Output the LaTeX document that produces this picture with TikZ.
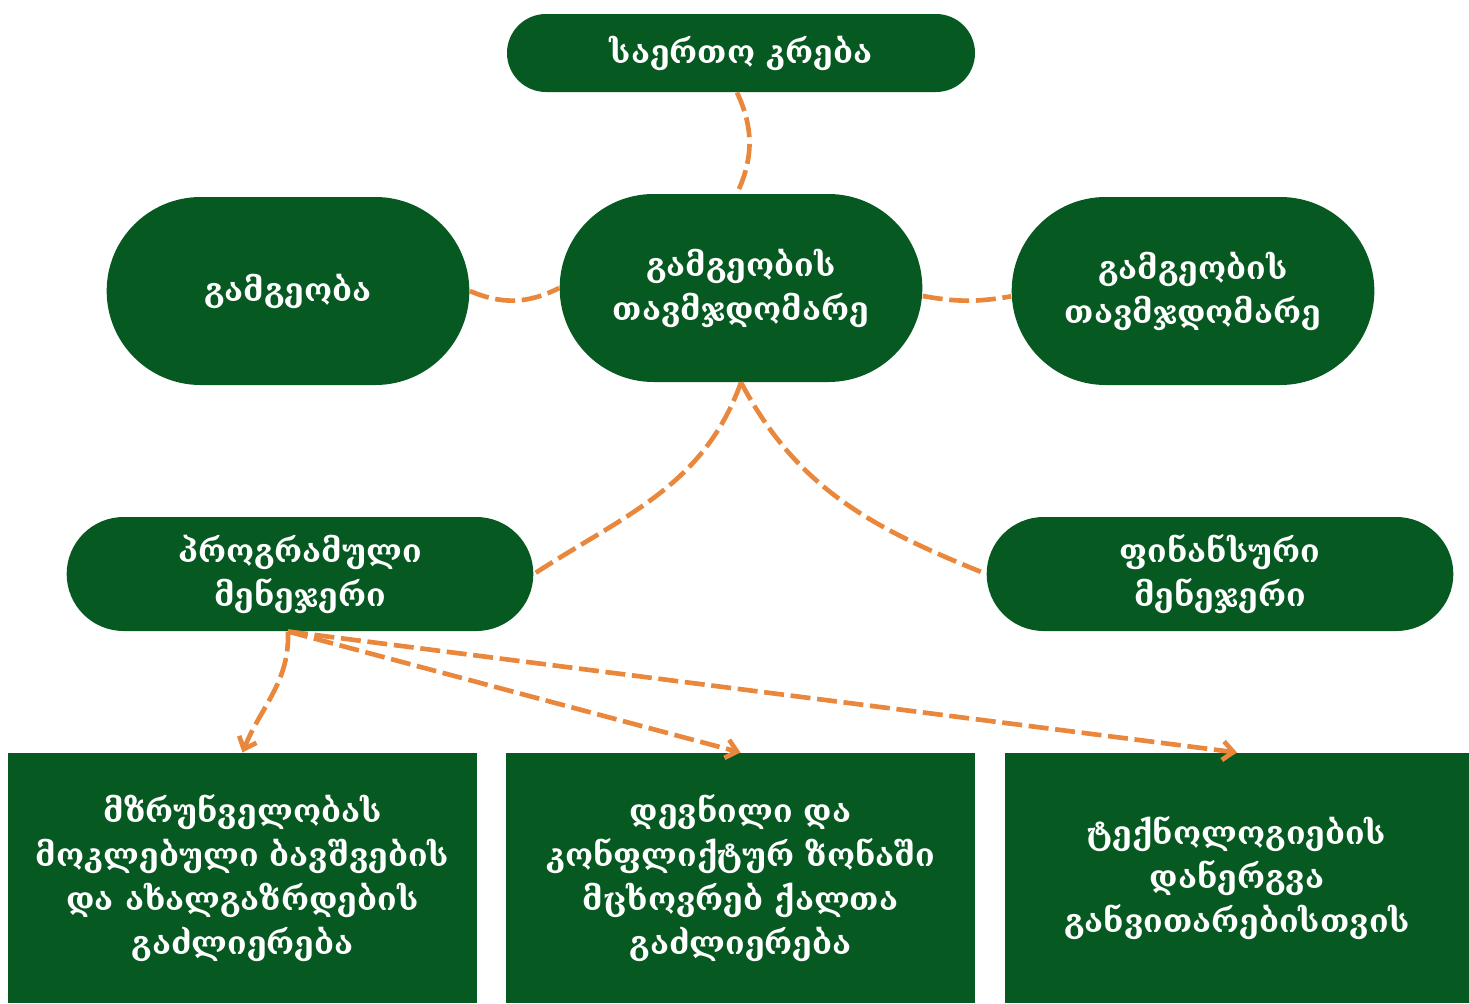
\documentclass[tikz,border=0pt]{standalone}
\usepackage{fontspec}
\setmainfont{DejaVu Serif}
\usetikzlibrary{shapes.misc,arrows.meta}

\definecolor{boardgreen}{RGB}{6,89,33}
\definecolor{linkorange}{RGB}{233,136,61}

\tikzset{every picture/.style={line width=0.75pt}}
\tikzset{
	pill/.style={rounded rectangle, fill=boardgreen, text=white, align=center, inner sep=0pt,
		font=\bfseries\fontsize{24}{33}\selectfont},
	panel/.style={rectangle, fill=boardgreen, text=white, align=center, inner sep=0pt,
		minimum height=187.5pt, font=\bfseries\fontsize{24}{33}\selectfont},
	link/.style={draw=linkorange, line width=3.5pt, dash pattern=on 15pt off 5pt},
	linkarrow/.style={link, -{Straight Barb[length=8pt,width=14pt]}}
}

\begin{document}
\begin{tikzpicture}[x=0.75pt,y=0.75pt]
	\useasboundingbox (0,0) rectangle (1469,-1003);

	% Text Node
	\node [pill, minimum width=351pt, minimum height=58.5pt] (meeting) at (741,-53) {საერთო კრება};
	% Text Node
	\node [pill, minimum width=272pt, minimum height=141pt] (board) at (288,-291) {გამგეობა};
	% Text Node
	\node [pill, minimum width=272pt, minimum height=141pt] (chair) at (741,-288) {გამგეობის\\თავმჯდომარე};
	% Text Node
	\node [pill, minimum width=272pt, minimum height=141pt] (vicechair) at (1193,-291) {გამგეობის\\თავმჯდომარე};
	% Text Node
	\node [pill, minimum width=350pt, minimum height=85.5pt] (progman) at (300,-574) {პროგრამული\\მენეჯერი};
	% Text Node
	\node [pill, minimum width=350pt, minimum height=85.5pt] (finman) at (1220,-574) {ფინანსური\\მენეჯერი};
	% Text Node
	\node [panel, minimum width=352pt] (youth) at (242.5,-878) {მზრუნველობას\\მოკლებული ბავშვების\\და ახალგაზრდების\\გაძლიერება};
	% Text Node
	\node [panel, minimum width=352pt] (women) at (740.5,-878) {დევნილი და\\კონფლიქტურ ზონაში\\მცხოვრებ ქალთა\\გაძლიერება};
	% Text Node
	\node [panel, minimum width=348pt] (tech) at (1237,-878) {ტექნოლოგიების\\დანერგვა\\განვითარებისთვის};

	\coordinate (progfoot) at ([xshift=-9pt]progman.south);

	%Curves
	\draw [link] ([xshift=-3pt]meeting.south) to[bend left=25] ([xshift=-3pt]chair.north);
	\draw [link] (board.east) to[bend right=25] (chair.west);
	\draw [link] ([yshift=-6pt]chair.east) to[bend right=10] ([yshift=-4pt]vicechair.west);
	\draw [link] (chair.south) to[out=-110,in=33] (progman.east);
	\draw [link] (chair.south) to[out=-62,in=158] (finman.west);

	%Arrows
	\draw [linkarrow] (progfoot) to[out=-88,in=68] (youth.north);
	\draw [linkarrow] (progfoot) -- (women.north);
	\draw [linkarrow] (progfoot) -- (tech.north);

\end{tikzpicture}
\end{document}
